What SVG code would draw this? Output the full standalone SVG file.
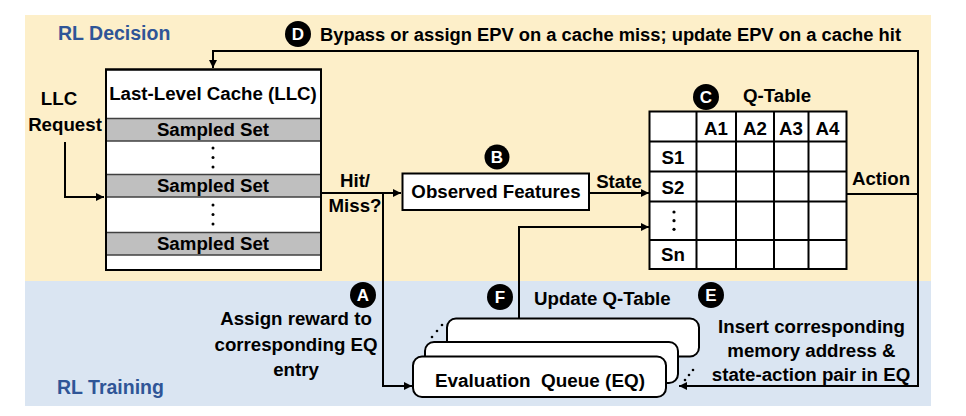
<svg xmlns="http://www.w3.org/2000/svg" width="966" height="416" viewBox="0 0 966 416">
<defs>
<style>
.t{font-family:"Liberation Sans",Arial,sans-serif;font-weight:bold;font-size:18.7px;fill:#000}
.m{text-anchor:middle}
.title{font-size:19.5px;fill:#2F5597}
.conn{fill:none;stroke:#000;stroke-width:2}
.box{fill:#fff;stroke:#000;stroke-width:2}
.gray{fill:#BFBFBF;stroke:#404040;stroke-width:1.5}
.cell{fill:#fff;stroke:#000;stroke-width:2}
.badge{fill:#000}
.bl{font-family:"Liberation Sans",Arial,sans-serif;font-weight:bold;font-size:17px;fill:#fff;text-anchor:middle}
.dot{fill:#000}
</style>
<marker id="arr" viewBox="0 0 10 10" refX="10" refY="5" markerWidth="4.5" markerHeight="4" orient="auto">
<path d="M0,0 L10,5 L0,10 z" fill="#000"/>
</marker>
</defs>

<!-- backgrounds -->
<rect x="25" y="15" width="906" height="266" fill="#FDEFC9"/>
<rect x="25" y="281" width="906" height="125" fill="#DAE5F2"/>
<text class="t title" x="58" y="39.5">RL Decision</text>
<text class="t title" x="57" y="394">RL Training</text>

<!-- connectors -->
<g id="connectors">
<polyline class="conn" points="65,142 65,197 104,197" marker-end="url(#arr)"/>
<polyline class="conn" points="321,193 401,193" marker-end="url(#arr)"/>
<polyline class="conn" points="383,193 383,386 412,386" marker-end="url(#arr)"/>
<polyline class="conn" points="589,193 649,193" marker-end="url(#arr)"/>
<polyline class="conn" points="519,318 519,227 649,227" marker-end="url(#arr)"/>
<polyline class="conn" points="847,194 918,194"/>
<polyline class="conn" points="918,194 918,51 213,51 213,68" marker-end="url(#arr)"/>
<polyline class="conn" points="918,194 918,386 679,386" marker-end="url(#arr)"/>
</g>

<!-- LLC -->
<g id="llc">
<rect class="box" x="106" y="69.5" width="215" height="200.5"/>
<rect class="gray" x="106" y="118.5" width="215" height="22.5"/>
<rect class="gray" x="106" y="174.5" width="215" height="22.5"/>
<rect class="gray" x="106" y="232.5" width="215" height="22.5"/>
<rect x="106" y="69.5" width="215" height="200.5" fill="none" stroke="#000" stroke-width="2"/>
<text class="t m" x="213" y="100">Last-Level Cache (LLC)</text>
<text class="t m" x="213" y="136">Sampled Set</text>
<text class="t m" x="213" y="192">Sampled Set</text>
<text class="t m" x="213" y="250">Sampled Set</text>
<circle class="dot" cx="213" cy="148" r="1.5"/>
<circle class="dot" cx="213" cy="157.5" r="1.5"/>
<circle class="dot" cx="213" cy="167" r="1.5"/>
<circle class="dot" cx="213" cy="205" r="1.5"/>
<circle class="dot" cx="213" cy="214.5" r="1.5"/>
<circle class="dot" cx="213" cy="224" r="1.5"/>
</g>

<g id="llc-request">
<text class="t m" x="59" y="105">LLC</text>
<text class="t m" x="65" y="131">Request</text>
</g>

<g id="hitmiss">
<text class="t m" x="355" y="187">Hit/</text>
<text class="t m" x="355" y="212">Miss?</text>
</g>

<!-- Observed features -->
<g id="observed">
<rect class="box" x="402.5" y="173.5" width="186.5" height="36.5"/>
<text class="t m" x="496" y="198">Observed Features</text>
<circle class="badge" cx="497" cy="157" r="12.5"/>
<text class="bl" x="497" y="163">B</text>
</g>

<g id="state-label">
<text class="t m" x="619" y="188">State</text>
</g>

<!-- Q-table -->
<g id="qtable">
<rect class="cell" x="649.5" y="111.5" width="197" height="157.5"/>
<path class="conn" d="M696.5,111.5V269 M736,111.5V269 M774,111.5V269 M808.5,111.5V269 M649.5,141.5H846.5 M649.5,171.5H846.5 M649.5,201.5H846.5 M649.5,240H846.5"/>
<text class="t m" x="716" y="134.5">A1</text>
<text class="t m" x="755" y="134.5">A2</text>
<text class="t m" x="791" y="134.5">A3</text>
<text class="t m" x="827.5" y="134.5">A4</text>
<text class="t m" x="673" y="164">S1</text>
<text class="t m" x="673" y="194">S2</text>
<text class="t m" x="673" y="261">Sn</text>
<circle class="dot" cx="674" cy="212" r="1.6"/>
<circle class="dot" cx="674" cy="220.7" r="1.6"/>
<circle class="dot" cx="674" cy="229.3" r="1.6"/>
<circle class="badge" cx="706" cy="97" r="13"/>
<text class="bl" x="706" y="103">C</text>
<text class="t" x="743" y="102">Q-Table</text>
</g>

<g id="action-label">
<text class="t m" x="881" y="185">Action</text>
</g>

<g id="label-d">
<circle class="badge" cx="298" cy="34" r="13"/>
<text class="bl" x="298" y="40">D</text>
<text class="t" x="320" y="41" textLength="581" lengthAdjust="spacingAndGlyphs">Bypass or assign EPV on a cache miss; update EPV on a cache hit</text>
</g>

<!-- EQ -->
<g id="eq">
<rect class="box" x="447" y="318.5" width="252" height="38" rx="9"/>
<rect class="box" x="425" y="342" width="253" height="41" rx="9"/>
<rect class="box" x="413" y="356.5" width="253" height="40.5" rx="9"/>
<text class="t" x="435" y="387" xml:space="preserve" textLength="210" lengthAdjust="spacingAndGlyphs">Evaluation  Queue (EQ)</text>
<circle class="dot" cx="432" cy="337" r="1.3"/>
<circle class="dot" cx="437" cy="331" r="1.3"/>
<circle class="dot" cx="442" cy="325" r="1.3"/>
<circle class="dot" cx="685" cy="380" r="1.3"/>
<circle class="dot" cx="689" cy="375" r="1.3"/>
<circle class="dot" cx="693" cy="370" r="1.3"/>
</g>

<g id="label-a">
<circle class="badge" cx="363" cy="295" r="13"/>
<text class="bl" x="363" y="301">A</text>
<text class="t m" x="296" y="325">Assign reward to</text>
<text class="t m" x="296" y="350.5">corresponding EQ</text>
<text class="t m" x="296" y="376">entry</text>
</g>

<g id="label-f">
<circle class="badge" cx="500" cy="297" r="13"/>
<text class="bl" x="500" y="303">F</text>
<text class="t" x="534" y="305">Update Q-Table</text>
</g>

<g id="label-e">
<circle class="badge" cx="711" cy="295" r="13"/>
<text class="bl" x="711" y="301">E</text>
<text class="t m" x="811.5" y="333">Insert corresponding</text>
<text class="t m" x="811.5" y="357">memory address &amp;</text>
<text class="t m" x="811" y="381">state-action pair in EQ</text>
</g>
</svg>
